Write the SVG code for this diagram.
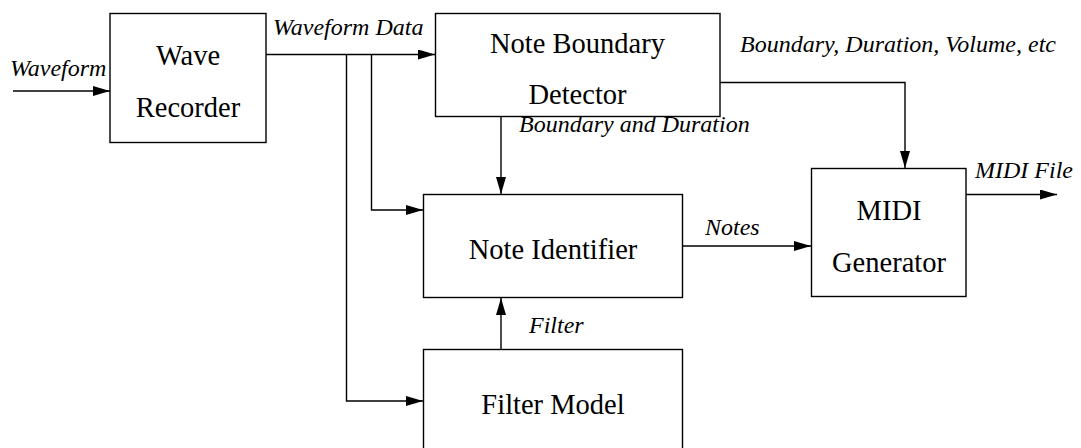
<svg xmlns="http://www.w3.org/2000/svg" width="1081" height="448" viewBox="0 0 1081 448">
<style>
.box{fill:#fff;stroke:#000;stroke-width:1.4}
.bt{font-size:28.5px;text-anchor:middle;fill:#000}
.lb{font-style:italic;font-size:24px;fill:#000}
.ln{fill:none;stroke:#000;stroke-width:1.4}
</style>
<defs>
<marker id="ah" markerUnits="userSpaceOnUse" markerWidth="18" markerHeight="11" refX="17" refY="5" orient="auto">
<path d="M0,0 L17,5 L0,10 z" fill="#000"/>
</marker>
</defs>
<rect width="1081" height="448" fill="#fff"/>
<g font-family="Liberation Serif, DejaVu Serif, serif">
<g id="connectors">
<path class="ln" d="M13,91 H110" marker-end="url(#ah)"/>
<path class="ln" d="M266,54.5 H435" marker-end="url(#ah)"/>
<path class="ln" d="M371.5,54.5 V210 H423" marker-end="url(#ah)"/>
<path class="ln" d="M346.5,54.5 V401 H423" marker-end="url(#ah)"/>
<path class="ln" d="M501,117 V194" marker-end="url(#ah)"/>
<path class="ln" d="M501,349 V298" marker-end="url(#ah)"/>
<path class="ln" d="M682,246 H811" marker-end="url(#ah)"/>
<path class="ln" d="M720,82.5 H905 V168" marker-end="url(#ah)"/>
<path class="ln" d="M966,194.5 H1057" marker-end="url(#ah)"/>
<text class="lb" x="10" y="76">Waveform</text>
<text class="lb" x="273" y="35">Waveform Data</text>
<text class="lb" x="740" y="52">Boundary, Duration, Volume, etc</text>
<text class="lb" x="519" y="132">Boundary and Duration</text>
<text class="lb" x="975" y="178">MIDI File</text>
<text class="lb" x="705" y="235">Notes</text>
<text class="lb" x="529" y="333">Filter</text>
</g>
<g id="wave-recorder">
<rect class="box" x="110" y="13.5" width="156" height="129"/>
<text class="bt" x="188" y="65">Wave</text>
<text class="bt" x="188" y="117">Recorder</text>
</g>
<g id="note-boundary-detector">
<rect class="box" x="435.5" y="13.5" width="284.5" height="103"/>
<text class="bt" x="577.5" y="53">Note Boundary</text>
<text class="bt" x="577.5" y="104">Detector</text>
</g>
<g id="note-identifier">
<rect class="box" x="423.5" y="194.5" width="259" height="103"/>
<text class="bt" x="553" y="259">Note Identifier</text>
</g>
<g id="filter-model">
<rect class="box" x="423.5" y="349.5" width="259" height="110"/>
<text class="bt" x="553" y="414">Filter Model</text>
</g>
<g id="midi-generator">
<rect class="box" x="811.5" y="168.5" width="154.5" height="128"/>
<text class="bt" x="889" y="220">MIDI</text>
<text class="bt" x="889" y="272">Generator</text>
</g>
</g>
</svg>
